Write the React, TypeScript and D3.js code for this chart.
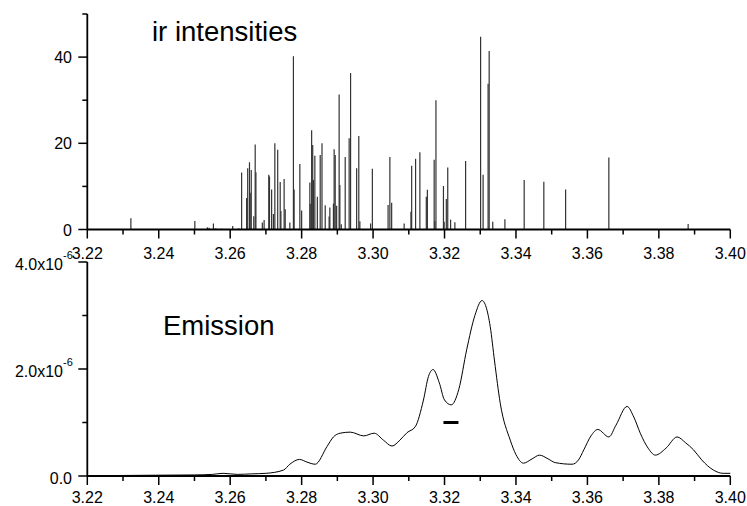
import React from "react";
import * as d3 from "d3";

// IR stick spectrum: positions (µm) and intensities
const stickX = [
  3.2322, 3.2501, 3.2536, 3.2541, 3.2553, 3.2560, 3.2576, 3.2607, 3.2624,
  3.2632, 3.2646, 3.2649, 3.2654, 3.2656, 3.2659, 3.2666, 3.2670, 3.2672,
  3.2690, 3.2695, 3.2708, 3.2710, 3.2716, 3.2721, 3.2725, 3.2733, 3.2740,
  3.2742, 3.2751, 3.2754, 3.2767, 3.2777, 3.2779, 3.2795, 3.2800, 3.2823,
  3.2824, 3.2828, 3.2831, 3.2833, 3.2837, 3.2844, 3.2852, 3.2857, 3.2866,
  3.2877, 3.2879, 3.2889, 3.2891, 3.2894, 3.2898, 3.2905, 3.2907, 3.2911,
  3.2922, 3.2933, 3.2937, 3.2954, 3.2960, 3.2963, 3.2993, 3.2998, 3.3042,
  3.3047, 3.3052, 3.3087, 3.3106, 3.3108, 3.3119, 3.3131, 3.3149, 3.3152,
  3.3171, 3.3173, 3.3176, 3.3197, 3.3199, 3.3205, 3.3209, 3.3217, 3.3229,
  3.3259, 3.3301, 3.3308, 3.3322, 3.3325, 3.3335, 3.3369, 3.3423, 3.3478,
  3.3539, 3.3660, 3.3882,
];
const stickI = [
  2.6, 2.0, 0.5, 0.4, 1.4, 0.3, 0.2, 0.8, 0.3,
  13.2, 7.3, 14.2, 15.6, 8.5, 13.8, 3.1, 19.7, 13.3,
  1.6, 2.2, 12.7, 12.3, 9.3, 3.6, 20.0, 18.5, 11.0,
  4.3, 11.7, 4.7, 1.6, 40.2, 9.3, 15.2, 4.4, 10.9,
  6.0, 23.0, 19.6, 11.5, 17.1, 7.6, 17.3, 20.0, 5.6,
  3.0, 5.1, 6.0, 18.6, 17.3, 5.5, 31.3, 10.3, 1.2,
  16.8, 21.2, 36.3, 14.2, 21.7, 1.9, 1.4, 14.1, 5.7,
  16.8, 6.2, 1.4, 4.1, 14.8, 16.4, 17.9, 7.6, 9.2,
  16.2, 2.0, 30.0, 10.1, 1.8, 7.1, 14.4, 2.3, 1.7,
  15.9, 44.7, 12.7, 33.8, 41.4, 1.8, 2.4, 11.5, 11.1,
  9.3, 16.7, 1.3,
];

// Emission spectrum (units of 1e-6)
const emisX = [
  3.220, 3.230, 3.240, 3.250, 3.255, 3.258, 3.262, 3.266, 3.270, 3.2749,
  3.2767, 3.2794, 3.2815, 3.2838, 3.2871, 3.2889, 3.2908, 3.2936, 3.2974,
  3.3003, 3.3029, 3.3053, 3.3075, 3.3095, 3.3118, 3.3141, 3.3155, 3.3168,
  3.3185, 3.3200, 3.3219, 3.3240, 3.3262, 3.3285, 3.3305, 3.3328, 3.3340,
  3.3356, 3.3384, 3.3400, 3.3421, 3.3445, 3.3466, 3.3490, 3.3510, 3.3557,
  3.3575, 3.3590, 3.3610, 3.3629, 3.3660, 3.3680, 3.3711, 3.3730, 3.3748,
  3.3770, 3.3790, 3.3820, 3.3851, 3.3875, 3.3897, 3.3920, 3.3953, 3.3980,
  3.4000,
];
const emisY = [
  0.005, 0.01, 0.015, 0.02, 0.03, 0.05, 0.03, 0.04, 0.05, 0.11,
  0.22, 0.31, 0.26, 0.22, 0.55, 0.73, 0.80, 0.82, 0.75,
  0.80, 0.67, 0.56, 0.67, 0.81, 0.92, 1.42, 1.86, 1.99,
  1.75, 1.42, 1.33, 1.62, 2.36, 3.0, 3.28, 2.79, 2.15,
  1.36, 0.67, 0.40, 0.24, 0.32, 0.39, 0.32, 0.25, 0.22,
  0.30, 0.49, 0.75, 0.87, 0.73, 0.95, 1.30, 1.10, 0.80,
  0.52, 0.39, 0.52, 0.73, 0.62, 0.49, 0.30, 0.11, 0.05,
  0.05,
];

// Marker bar
const barX = [3.3197, 3.3239];
const barY = 1.0;

const xTickLabels = ["3.22", "3.24", "3.26", "3.28", "3.30", "3.32", "3.34", "3.36", "3.38", "3.40"];
const topYTicks = [0, 20, 40];
const botYTicks = [
  { v: 0, main: "0.0", sup: "" },
  { v: 2, main: "2.0x10", sup: "-6" },
  { v: 4, main: "4.0x10", sup: "-6" },
];

const FONT = "Liberation Sans, Arial, Helvetica, sans-serif";

export default function App() {
  const W = 747, H = 506;
  const x = d3.scaleLinear().domain([3.22, 3.40]).range([87.3, 730.3]);
  const yTop = d3.scaleLinear().domain([0, 50]).range([229.5, 14]);
  const yBot = d3.scaleLinear().domain([0, 4]).range([476, 262]);

  const minorX = d3.range(19).map((i) => 3.22 + i * 0.01);
  const line = d3
    .line<number>()
    .x((_, i) => x(emisX[i]))
    .y((d) => yBot(d))
    .curve(d3.curveMonotoneX);

  const axisW = 1.8;

  const xAxis = (y0: number, labelY: number) => (
    <g>
      <line x1={x(3.22)} x2={x(3.40)} y1={y0} y2={y0} stroke="#000" strokeWidth={axisW} />
      {minorX.map((v, i) => (
        <line key={i} x1={x(v)} x2={x(v)} y1={y0} y2={y0 + (i % 2 === 0 ? 9 : 5)} stroke="#000" strokeWidth={1.5} />
      ))}
      {xTickLabels.map((t) => (
        <text key={t} x={x(+t)} y={labelY} textAnchor="middle" fontSize={16} fontFamily={FONT} fill="#000">
          {t}
        </text>
      ))}
    </g>
  );

  return (
    <svg width={W} height={H} style={{ position: "absolute", left: 0, top: 0, background: "#fff" }}>
      <rect width={W} height={H} fill="#fff" />
      {/* Top panel */}
      <g>
        {stickX.map((sx, i) => (
          <line key={i} x1={x(sx)} x2={x(sx)} y1={yTop(0)} y2={yTop(stickI[i])} stroke="#333" strokeWidth={1.2} />
        ))}
        <line x1={x(3.22)} x2={x(3.22)} y1={yTop(0)} y2={yTop(50)} stroke="#000" strokeWidth={axisW} />
        {[0, 10, 20, 30, 40, 50].map((v) => (
          <line key={v} x1={x(3.22)} x2={x(3.22) - (v % 20 === 0 ? 9 : 5)} y1={yTop(v)} y2={yTop(v)} stroke="#000" strokeWidth={1.5} />
        ))}
        {topYTicks.map((v) => (
          <text key={v} x={72} y={yTop(v) + 6} textAnchor="end" fontSize={16} fontFamily={FONT} fill="#000">
            {v}
          </text>
        ))}
        {xAxis(yTop(0), 259)}
        <text x={152} y={41} fontSize={27.5} fontFamily={FONT} fill="#000">ir intensities</text>
      </g>
      {/* Bottom panel */}
      <g>
        <path d={line(emisY) || ""} fill="none" stroke="#000" strokeWidth={1} />
        <line x1={x(barX[0])} x2={x(barX[1])} y1={yBot(barY)} y2={yBot(barY)} stroke="#000" strokeWidth={3} />
        <line x1={x(3.22)} x2={x(3.22)} y1={yBot(0)} y2={yBot(4)} stroke="#000" strokeWidth={axisW} />
        {[0, 1, 2, 3, 4].map((v) => (
          <line key={v} x1={x(3.22)} x2={x(3.22) - (v % 2 === 0 ? 9 : 5)} y1={yBot(v)} y2={yBot(v)} stroke="#000" strokeWidth={1.5} />
        ))}
        {botYTicks.map((t) => (
          <text key={t.v} x={t.sup ? 63 : 72} y={yBot(t.v) + 8} textAnchor="end" fontSize={16} fontFamily={FONT} fill="#000">
            {t.main}
          </text>
        ))}
        {botYTicks.filter((t) => t.sup).map((t) => (
          <text key={"s" + t.v} x={63} y={yBot(t.v) - 3} textAnchor="start" fontSize={11} fontFamily={FONT} fill="#000">
            {t.sup}
          </text>
        ))}
        {xAxis(yBot(0), 503)}
        <text x={163} y={335} fontSize={27.5} fontFamily={FONT} fill="#000">Emission</text>
      </g>
    </svg>
  );
}
